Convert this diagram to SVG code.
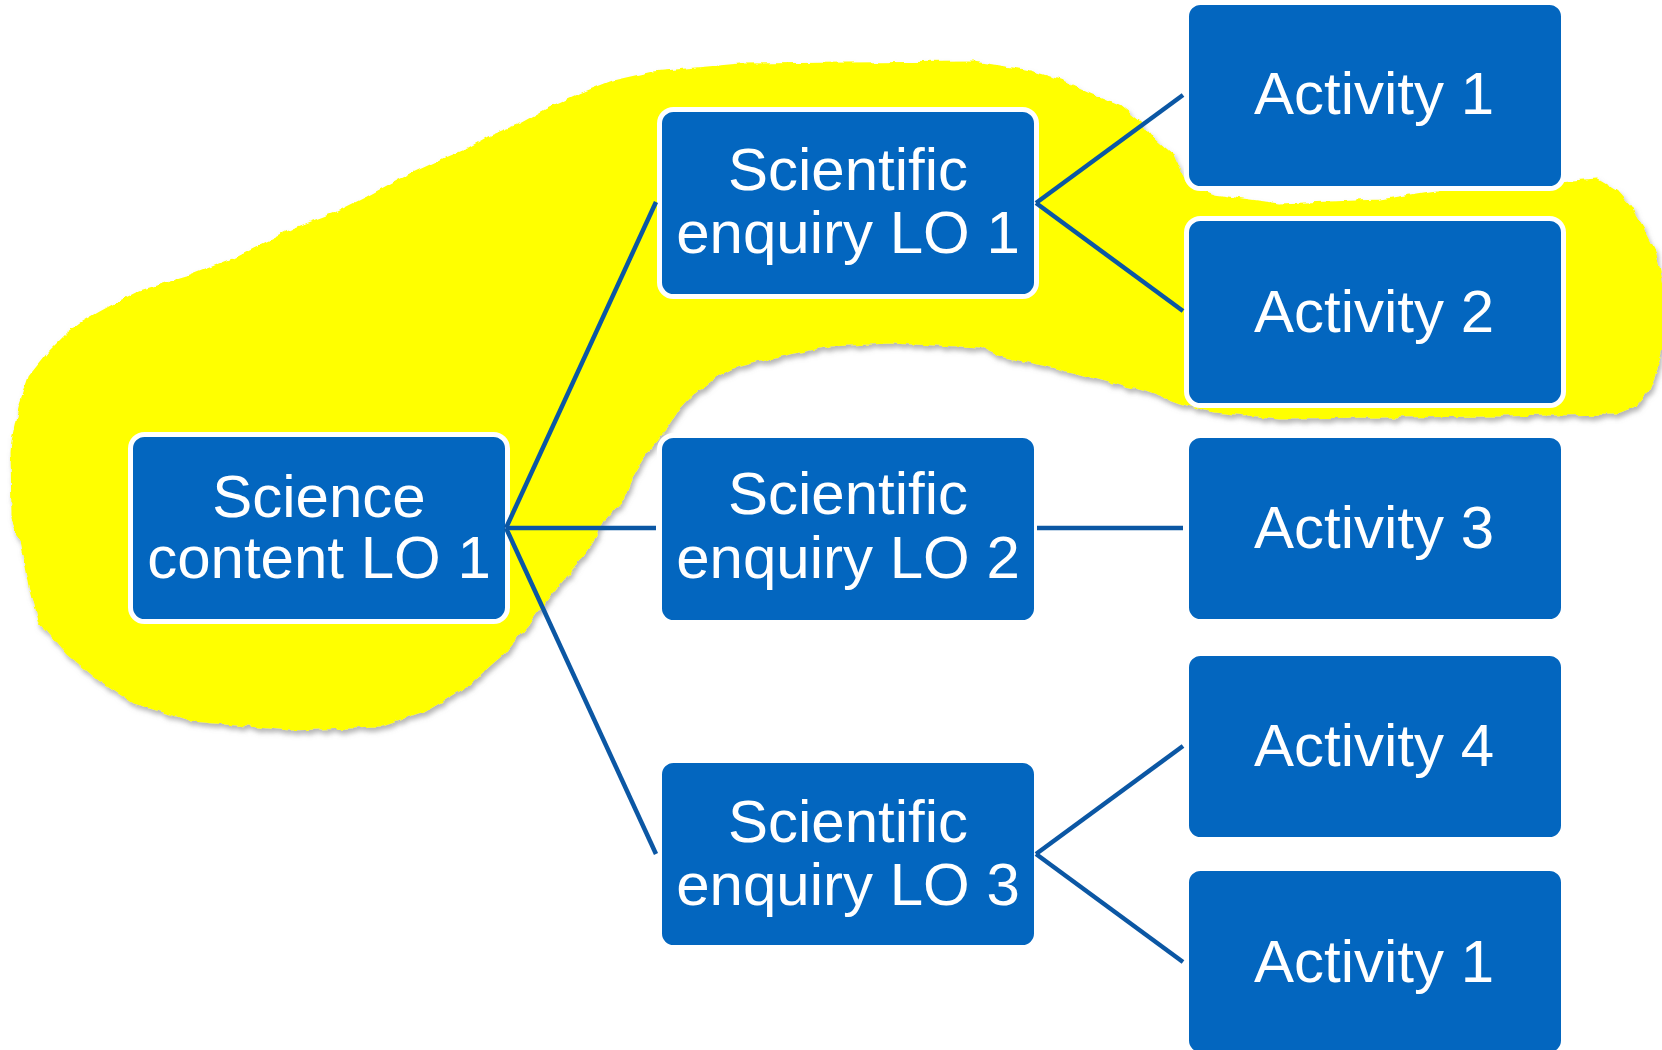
<svg xmlns="http://www.w3.org/2000/svg" width="1662" height="1050" viewBox="0 0 1662 1050">
<defs>
<filter id="shadow" x="-5%" y="-5%" width="110%" height="115%" filterUnits="objectBoundingBox">
<feTurbulence type="fractalNoise" baseFrequency="0.09" numOctaves="2" seed="3" result="noise"/>
<feDisplacementMap in="SourceGraphic" in2="noise" scale="6" xChannelSelector="R" yChannelSelector="G" result="wob"/>
<feDropShadow in="wob" dx="2" dy="4" stdDeviation="2.5" flood-color="#7a7a7a" flood-opacity="0.55"/>
</filter>
</defs>
<style>
.box{fill:#0366BF;stroke:#FFFFFF;stroke-width:5}
.lbl{font-family:"Liberation Sans",Arial,sans-serif;font-size:60px;fill:#FFFFFF;text-anchor:middle}
.conn{stroke:#0B57A4;stroke-width:4.5;fill:none;stroke-linecap:butt}
</style>
<rect width="1662" height="1050" fill="#FFFFFF"/>
<g id="highlight" filter="url(#shadow)">
<path fill="#FFFF00" stroke="#FFFF00" stroke-width="3" stroke-linejoin="round" d="M 520,125 L 547,110 L 580,95 L 613,82 L 653,73 L 740,65 L 847,64 L 973,63 L 1000,67 L 1030,72 L 1063,82 L 1097,97 L 1120,107 L 1140,123 L 1153,140 L 1173,157 L 1180,173 L 1187,186 L 1213,196 L 1280,205 L 1380,201 L 1430,193 L 1480,186 L 1560,183 L 1597,180 L 1617,192 L 1630,207 L 1643,229 L 1655,253 L 1660,275 L 1664,300 L 1663,340 L 1656,370 L 1648,390 L 1635,405 L 1615,413 L 1500,415 L 1280,417 L 1213,411 L 1180,402 L 1147,390 L 1113,382 L 1080,373 L 1047,365 L 1000,355 L 980,346 L 890,342 L 830,345 L 780,355 L 733,367 L 713,377 L 693,393 L 680,407 L 667,427 L 647,450 L 633,473 L 623,498 L 603,520 L 580,559 L 549,595 L 527,625 L 504,653 L 469,684 L 424,711 L 379,726 L 290,729 L 192,720 L 134,702 L 98,679 L 67,653 L 40,621 L 31,586 L 22,541 L 13,519 L 12,452 L 13,440 L 20,407 L 30,377 L 50,352 L 67,335 L 83,323 L 100,313 L 120,302 L 140,292 L 187,278 L 233,260 L 273,240 L 293,230 L 333,215 L 367,198 L 400,180 L 443,160 L 467,150 L 490,137 Z"/>
</g>
<g id="nodes">
<g id="science-content-lo1">
<rect class="box" x="130.5" y="434.5" width="377" height="187" rx="14"/>
<text class="lbl" x="319" y="517">Science</text>
<text class="lbl" x="319" y="578">content LO 1</text>
</g>
<g id="scientific-enquiry-lo1">
<rect class="box" x="659.5" y="109.5" width="377" height="187" rx="14"/>
<text class="lbl" x="848" y="190">Scientific</text>
<text class="lbl" x="848" y="253">enquiry LO 1</text>
</g>
<g id="scientific-enquiry-lo2">
<rect class="box" x="659.5" y="435.5" width="377" height="187" rx="14"/>
<text class="lbl" x="848" y="514">Scientific</text>
<text class="lbl" x="848" y="578">enquiry LO 2</text>
</g>
<g id="scientific-enquiry-lo3">
<rect class="box" x="659.5" y="760.5" width="377" height="187" rx="14"/>
<text class="lbl" x="848" y="842">Scientific</text>
<text class="lbl" x="848" y="905">enquiry LO 3</text>
</g>
<g id="activity-1-top">
<rect class="box" x="1186.5" y="2.5" width="377" height="186" rx="14"/>
<text class="lbl" x="1374" y="114">Activity 1</text>
</g>
<g id="activity-2">
<rect class="box" x="1186.5" y="218.5" width="377" height="187" rx="14"/>
<text class="lbl" x="1374" y="332">Activity 2</text>
</g>
<g id="activity-3">
<rect class="box" x="1186.5" y="435.5" width="377" height="186" rx="14"/>
<text class="lbl" x="1374" y="548">Activity 3</text>
</g>
<g id="activity-4">
<rect class="box" x="1186.5" y="653.5" width="377" height="186" rx="14"/>
<text class="lbl" x="1374" y="766">Activity 4</text>
</g>
<g id="activity-1-bottom">
<rect class="box" x="1186.5" y="868.5" width="377" height="186" rx="14"/>
<text class="lbl" x="1374" y="982">Activity 1</text>
</g>
</g>
<g id="connectors">
<line class="conn" x1="506" y1="528" x2="656" y2="202"/>
<line class="conn" x1="506" y1="528" x2="656" y2="528"/>
<line class="conn" x1="506" y1="528" x2="656" y2="854"/>
<line class="conn" x1="1036" y1="203" x2="1183" y2="95"/>
<line class="conn" x1="1036" y1="203" x2="1183" y2="311"/>
<line class="conn" x1="1037" y1="528" x2="1183" y2="528"/>
<line class="conn" x1="1036" y1="854" x2="1183" y2="746"/>
<line class="conn" x1="1036" y1="854" x2="1183" y2="962"/>
</g>
</svg>
